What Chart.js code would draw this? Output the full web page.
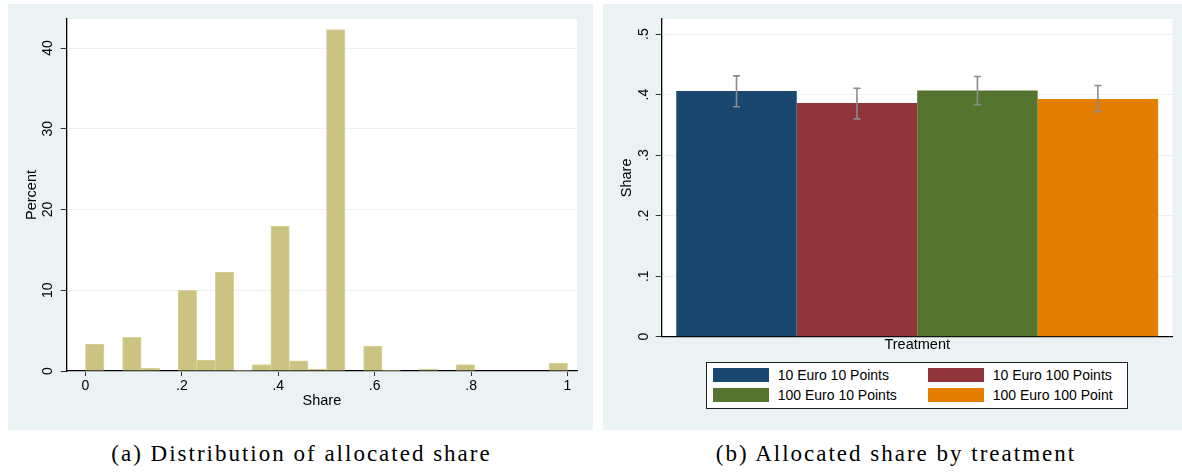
<!DOCTYPE html>
<html>
<head>
<meta charset="utf-8">
<script src="https://cdn.jsdelivr.net/npm/chart.js@4.4.1/dist/chart.umd.min.js"></script>
<style>
  body { margin: 0; background: #fff; width: 1182px; height: 472px; position: relative; overflow: hidden;
         font-family: "Liberation Sans", Arial, sans-serif; }
  .panel { position: absolute; top: 4px; height: 426px; background: #eaf2f3; }
  #panelA { left: 8px; width: 585px; }
  #panelB { left: 603px; width: 579px; }
  .caption { position: absolute; top: 442px; height: 26px; line-height: 23px; font-family: "Liberation Serif", serif;
             font-size: 23px; letter-spacing: 2px; text-align: center; white-space: nowrap; color: #000; }
  #legendB { position: absolute; left: 102.7px; top: 357.7px; width: 422px; height: 47px; background: #fff;
             border: 1px solid #222; box-sizing: border-box; }
  .item { position: absolute; height: 15px; font-size: 14px; color: #000; white-space: nowrap; }
  .swatch { position: absolute; left: 0; top: 0; width: 56px; height: 14px; }
  .label { position: absolute; left: 65px; top: -1px; line-height: 16px; }
</style>
</head>
<body>
<div class="panel" id="panelA"><canvas id="histChart"></canvas></div>
<div class="panel" id="panelB"><canvas id="barChart"></canvas><div id="legendB"></div></div>
<div class="caption" style="left:0; width:603px;">(a) Distribution of allocated share</div>
<div class="caption" style="left:616px; width:560px;">(b) Allocated share by treatment</div>
<script>
// (a) histogram: 26 bins of width 1/26 on [0, 1]
const binCenters = [0.0192, 0.0577, 0.0962, 0.1346, 0.1731, 0.2115, 0.2500, 0.2885, 0.3269, 0.3654,
  0.4038, 0.4423, 0.4808, 0.5192, 0.5577, 0.5962, 0.6346, 0.6731, 0.7115, 0.7500,
  0.7885, 0.8269, 0.8654, 0.9038, 0.9423, 0.9808];
const binPercent = [3.34, 0, 4.17, 0.37, 0, 10.0, 1.36, 12.25, 0.12, 0.8,
  17.95, 1.27, 0.25, 42.3, 0, 3.09, 0.12, 0, 0.25, 0,
  0.78, 0, 0, 0, 0, 0.99];
const shareTicks = [0, 0.2, 0.4, 0.6, 0.8, 1];
const percentTicks = [0, 10, 20, 30, 40];

// (b) mean share by treatment with confidence intervals
const treatments = ["10 Euro 10 Points", "10 Euro 100 Points", "100 Euro 10 Points", "100 Euro 100 Point"];
const meanShare = [0.406, 0.386, 0.407, 0.393];
const ciLow = [0.380, 0.360, 0.3835, 0.372];
const ciHigh = [0.431, 0.4105, 0.430, 0.415];
const treatmentColors = ["#1a476f", "#90353b", "#55752f", "#e37e00"];
const shareAxisTicks = [0, 0.1, 0.2, 0.3, 0.4, 0.5];

const stataNum = (v) => (v === 0 || v >= 1 ? String(v) : String(v).replace(/^0/, ""));
const tickFont = { family: "Liberation Sans", size: 14 };
const titleFont = { family: "Liberation Sans", size: 14.5 };

const plotBackground = {
  id: "plotBackground",
  beforeDraw(chart) {
    const { ctx, chartArea: a } = chart;
    ctx.save();
    ctx.fillStyle = "#fff";
    ctx.fillRect(a.left, a.top, a.right - a.left, a.bottom - a.top);
    ctx.restore();
  },
};

const errorBars = {
  id: "errorBars",
  afterDatasetsDraw(chart) {
    const { ctx } = chart;
    const y = chart.scales.y;
    ctx.save();
    ctx.strokeStyle = "#8c8c8c";
    ctx.lineWidth = 1.6;
    chart.data.datasets.forEach((ds, i) => {
      const bar = chart.getDatasetMeta(i).data[0];
      const lo = y.getPixelForValue(ciLow[i]);
      const hi = y.getPixelForValue(ciHigh[i]);
      ctx.beginPath();
      ctx.moveTo(bar.x, lo); ctx.lineTo(bar.x, hi);
      ctx.moveTo(bar.x - 3.5, lo); ctx.lineTo(bar.x + 3.5, lo);
      ctx.moveTo(bar.x - 3.5, hi); ctx.lineTo(bar.x + 3.5, hi);
      ctx.stroke();
    });
    ctx.restore();
  },
};

function initHistogram(canvas) {
  const data = {
    datasets: [{
      label: "Percent",
      data: binCenters.map((x, i) => ({ x: x, y: binPercent[i] })),
      backgroundColor: "#cbc382",
      borderColor: "#d9d39c",
      borderWidth: 1,
      barPercentage: 1,
      categoryPercentage: 1,
    }],
  };
  const config = {
    type: "bar",
    data: data,
    plugins: [plotBackground],
    options: {
      responsive: true,
      maintainAspectRatio: false,
      animation: false,
      layout: { padding: { left: 0, right: 16, top: 15, bottom: 0 } },
      plugins: { legend: { display: false }, tooltip: { enabled: false } },
      scales: {
        x: {
          type: "linear",
          offset: false,
          min: -0.0389,
          max: 1.0197,
          afterBuildTicks: (s) => { s.ticks = shareTicks.map((v) => ({ value: v })); },
          afterFit: (s) => { s.height = 59; },
          grid: { offset: false, drawOnChartArea: false, drawTicks: true, tickLength: 5, tickColor: "#333" },
          border: { color: "#000", width: 1.3 },
          ticks: { font: tickFont, color: "#000", padding: 1.5, maxRotation: 0, callback: (v) => stataNum(v) },
          title: { display: true, text: "Share", font: titleFont, color: "#000", padding: { top: 0, bottom: 20 } },
        },
        y: {
          min: 0,
          max: 43.6,
          afterBuildTicks: (s) => { s.ticks = percentTicks.map((v) => ({ value: v })); },
          afterFit: (s) => { s.width = 58.7; },
          grid: { color: "#eaf2f3", tickColor: "#333", tickLength: 6 },
          border: { color: "#000", width: 1.3 },
          ticks: { font: tickFont, color: "#000", minRotation: 90, maxRotation: 90, crossAlign: "center",
                   padding: 5, callback: (v) => stataNum(v) },
          title: { display: true, text: "Percent", font: titleFont, color: "#000", padding: { top: 15, bottom: 0 } },
        },
      },
    },
  };
  return new Chart(canvas, config);
}

function initBars(canvas) {
  const data = {
    labels: ["Treatment"],
    datasets: treatments.map((name, i) => ({
      label: name,
      data: [meanShare[i]],
      backgroundColor: treatmentColors[i],
      borderWidth: 0,
      barPercentage: 1,
      categoryPercentage: 0.943,
    })),
  };
  const config = {
    type: "bar",
    data: data,
    plugins: [plotBackground, errorBars],
    options: {
      responsive: true,
      maintainAspectRatio: false,
      animation: false,
      layout: { padding: { left: 0, right: 9.3, top: 15, bottom: 0 } },
      plugins: { legend: { display: false }, tooltip: { enabled: false } },
      scales: {
        x: {
          afterFit: (s) => { s.height = 93.3; },
          grid: { drawOnChartArea: false, drawTicks: false },
          border: { color: "#000", width: 1.3 },
          ticks: { font: titleFont, color: "#000", padding: 0 },
        },
        y: {
          min: 0,
          max: 0.525,
          afterBuildTicks: (s) => { s.ticks = shareAxisTicks.map((v) => ({ value: v })); },
          afterFit: (s) => { s.width = 58.7; },
          grid: { color: "#eaf2f3", tickColor: "#333", tickLength: 6 },
          border: { color: "#000", width: 1.3 },
          ticks: { font: tickFont, color: "#000", minRotation: 90, maxRotation: 90, crossAlign: "center",
                   padding: 6.2, callback: (v) => stataNum(v) },
          title: { display: true, text: "Share", font: titleFont, color: "#000", padding: { top: 15, bottom: 0 } },
        },
      },
    },
  };
  return new Chart(canvas, config);
}

function buildLegend(box) {
  treatments.forEach((name, i) => {
    const item = document.createElement("div");
    item.className = "item";
    item.style.left = 6 + (i % 2) * 215 + "px";
    item.style.top = 5.5 + Math.floor(i / 2) * 19.6 + "px";
    item.innerHTML = '<div class="swatch" style="background:' + treatmentColors[i] + '"></div>' +
      '<div class="label">' + name + "</div>";
    box.appendChild(item);
  });
}

document.addEventListener("DOMContentLoaded", () => {
  initHistogram(document.querySelector("#histChart"));
  initBars(document.querySelector("#barChart"));
  buildLegend(document.querySelector("#legendB"));
});
</script>
</body>
</html>
